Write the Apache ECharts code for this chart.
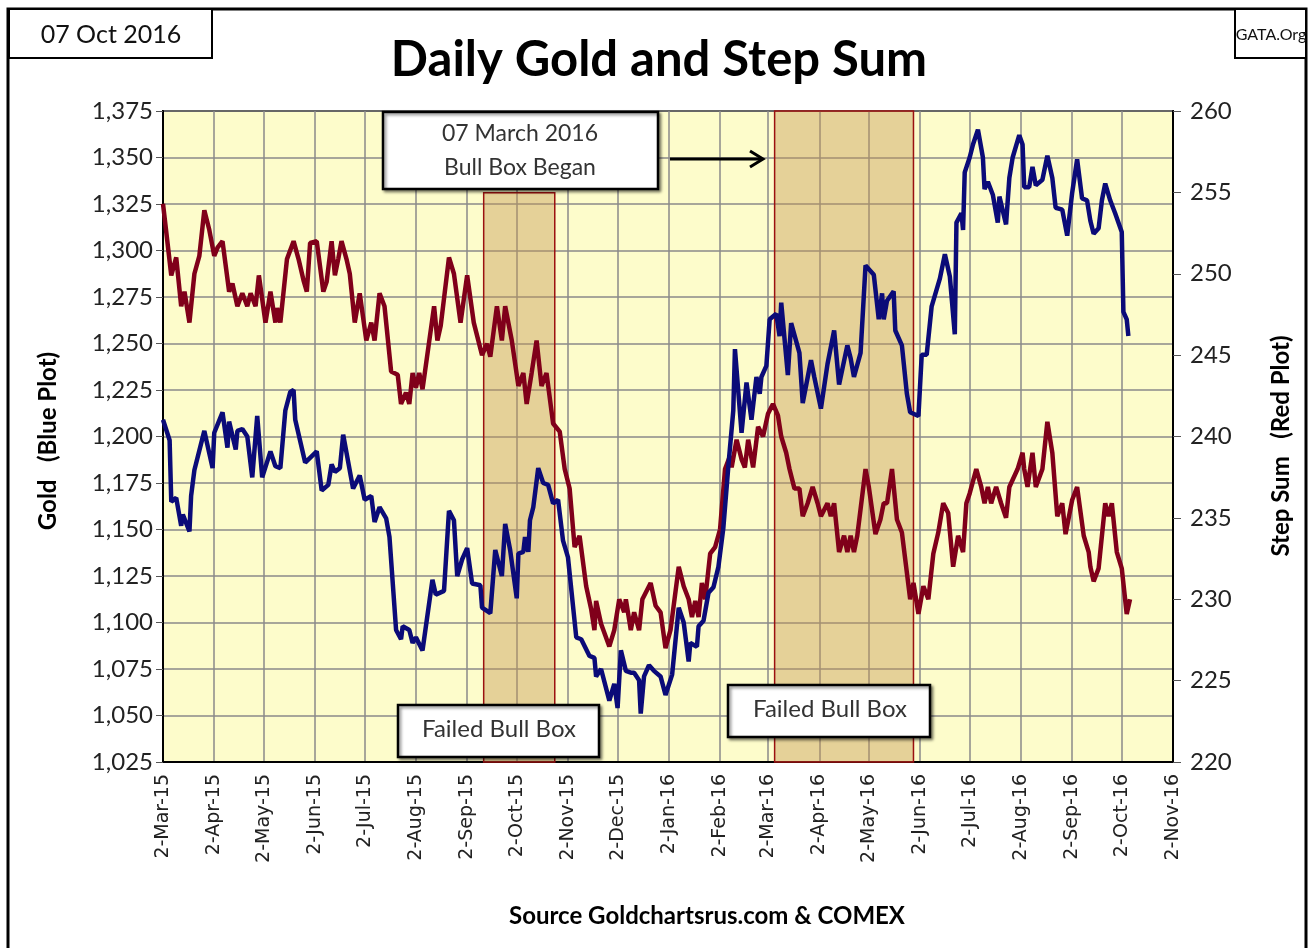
<!DOCTYPE html>
<html>
<head>
<meta charset="utf-8">
<title>Daily Gold and Step Sum</title>
<script src="https://cdn.jsdelivr.net/npm/echarts@6/dist/echarts.min.js"></script>
<style>
html,body{margin:0;padding:0;background:#fff;}
#main{width:1312px;height:948px;}
</style>
</head>
<body>
<div id="main"></div>
<script>
// calendar days counted from 2-Mar-15
var goldDay = [0,4,5,8,11,12,16,17,19,25,30,31,36,39,40,44,45,48,51,54,57,60,65,68,71,74,77,79,80,86,93,96,100,102,104,107,109,115,119,122,126,128,131,135,137,141,144,145,149,151,153,157,163,165,170,173,176,178,181,184,187,192,193,198,201,205,207,210,214,215,218,219,221,222,224,227,230,233,236,239,242,245,250,253,258,261,262,265,270,273,275,277,280,283,285,288,289,291,294,297,301,304,308,312,315,318,319,323,324,327,330,333,336,339,342,345,346,350,353,356,359,361,362,365,367,371,373,374,378,380,385,387,392,394,398,402,406,409,414,416,418,422,425,430,433,435,436,438,442,443,447,450,452,457,459,462,465,470,473,476,479,480,483,484,485,488,490,493,496,497,499,502,505,506,510,512,514,518,520,521,524,526,528,532,535,538,540,544,547,550,553,556,559,561,563,566,568,570,573,576,580,581,583,584];
var goldPrice = [1209,1198,1165,1167,1152,1158,1149,1168,1182,1203,1183,1202,1213,1194,1208,1193,1203,1204,1200,1178,1211,1178,1192,1184,1183,1214,1224,1225,1209,1186,1192,1171,1174,1185,1181,1183,1201,1172,1179,1166,1168,1154,1162,1156,1146,1096,1091,1098,1096,1089,1092,1085,1123,1115,1117,1160,1155,1125,1134,1140,1121,1120,1108,1105,1139,1125,1153,1139,1113,1137,1138,1146,1138,1155,1162,1183,1175,1174,1164,1166,1144,1135,1092,1091,1082,1081,1071,1075,1058,1067,1054,1085,1074,1073,1073,1069,1051,1071,1077,1074,1071,1061,1072,1108,1100,1079,1089,1087,1098,1101,1116,1119,1130,1151,1184,1214,1247,1202,1229,1209,1232,1223,1232,1238,1263,1266,1254,1272,1233,1261,1245,1218,1241,1232,1215,1239,1257,1228,1249,1242,1232,1245,1292,1287,1263,1277,1263,1273,1278,1257,1249,1223,1213,1211,1244,1244,1270,1285,1298,1286,1255,1315,1320,1311,1342,1350,1357,1365,1350,1333,1337,1330,1315,1329,1314,1339,1350,1362,1357,1334,1334,1345,1335,1338,1351,1339,1323,1322,1308,1331,1349,1328,1327,1316,1309,1312,1327,1336,1327,1320,1310,1267,1263,1254];

var stepDay = [0,5,8,11,13,16,19,22,25,28,31,33,36,40,42,45,48,51,53,56,58,62,65,68,69,71,75,79,82,85,87,89,93,97,99,102,104,106,108,111,113,116,119,123,126,128,131,134,138,142,144,147,149,151,153,155,157,164,166,168,173,176,180,184,188,193,196,198,202,205,207,211,215,218,220,223,226,229,232,236,240,243,246,249,252,256,259,261,262,265,270,273,276,279,280,283,285,288,290,295,298,301,304,307,312,315,318,320,322,324,326,328,331,334,337,340,343,344,347,350,352,354,357,360,363,366,369,372,374,377,379,382,385,387,390,393,396,398,402,404,406,409,412,414,416,418,420,425,427,431,434,436,438,441,444,447,452,454,457,460,463,466,469,472,475,478,481,484,486,488,492,495,497,499,501,504,507,510,512,517,520,521,523,526,528,532,535,538,541,544,546,550,553,557,560,561,563,566,570,572,574,577,580,583,585];
var stepSum = [254.3,249.9,251.0,248.0,248.9,247.0,250.0,251.1,253.9,252.7,251.1,251.6,252.0,248.9,249.4,248.0,248.8,248.0,248.8,248.0,249.9,247.0,248.9,247.0,247.9,247.0,250.9,252.0,250.9,249.6,248.9,251.9,252.0,248.9,249.5,252.0,249.9,250.9,252.0,250.9,250.0,247.0,248.8,245.9,247.0,245.9,248.8,248.0,244.0,243.8,242.0,242.7,242.0,243.9,243.0,243.9,242.9,248.0,245.9,246.8,251.0,250.0,247.0,249.9,247.0,245.0,245.7,244.9,248.0,245.9,248.0,245.9,243.1,243.9,242.0,243.9,245.9,243.1,243.9,240.8,240.3,238.0,236.8,233.2,233.9,230.8,229.4,228.1,229.9,228.5,227.1,228.1,230.0,229.2,230.0,228.1,229.2,228.1,230.0,231.0,229.6,229.2,227.0,228.1,232.0,230.8,230.0,228.9,229.9,228.9,231.0,230.0,232.8,233.2,234.3,238.0,238.8,238.1,239.8,238.6,238.1,239.8,238.1,240.6,240.0,241.4,242.0,241.3,240.0,239.0,238.0,236.8,236.8,235.1,235.9,236.9,235.9,235.1,235.9,235.1,235.9,232.9,233.9,232.9,233.9,232.9,233.9,238.0,236.9,234.0,234.9,235.9,235.9,238.0,234.9,234.1,230.0,231.0,229.1,230.8,230.0,232.8,234.1,235.9,235.3,232.0,233.9,232.9,235.9,236.5,238.0,236.9,235.9,236.9,235.9,236.9,235.9,235.0,236.9,238.0,239.0,238.0,236.9,239.0,236.9,238.0,240.9,239.0,235.1,235.9,234.0,236.1,236.9,233.9,232.9,232.0,231.1,231.9,235.9,235.1,235.9,232.9,231.9,229.1,230.0];

var bullBoxes = [
	{from:'2015-09-12', to:'2015-10-25', top:1331},
	{from:'2016-03-06', to:'2016-05-29', top:1375}
];
var goldTicks = {min:1025, max:1375, step:25};
var stepTicks = {min:220, max:260, step:5};
var monthNames = ['Jan','Feb','Mar','Apr','May','Jun','Jul','Aug','Sep','Oct','Nov','Dec'];

//横轴：每天一个分类，2-Mar-15 到 2-Nov-16
var catDates = [];
var t0 = Date.UTC(2015,2,2);
for(var i=0;i<=611;i++){
	var d = new Date(t0 + i*86400000);
	var mm = d.getUTCMonth()+1, dd = d.getUTCDate();
	catDates.push(d.getUTCFullYear()+'-'+(mm<10?'0'+mm:mm)+'-'+(dd<10?'0'+dd:dd));
}
function isTickDay(idx, val){
	return val.slice(8) === '02';
}
function fmtDate(val){
	var p = val.split('-');
	return parseInt(p[2],10)+'-'+monthNames[parseInt(p[1],10)-1]+'-'+p[0].slice(2);
}
function zip(xs, ys){
	var out = [];
	for(var i=0;i<xs.length;i++){ out.push([xs[i], ys[i]]); }
	return out;
}

var boxData = bullBoxes.map(function(b){
	return [{xAxis:b.from, yAxis:b.top},{xAxis:b.to, yAxis:goldTicks.min}];
});

var noteBox = {fill:'#fff', stroke:'#000', lineWidth:2.5, shadowBlur:3, shadowOffsetX:2, shadowOffsetY:2, shadowColor:'rgba(0,0,0,0.45)'};

var myChart = echarts.init(document.getElementById('main'));
var option = {
	animation:false,
	backgroundColor:'#ffffff',
	grid:{
		left:163, right:139, top:111, bottom:186,
		show:true, backgroundColor:'#fdfccb', borderColor:'#000', borderWidth:2
	},
	xAxis:[{
		type:'category',
		data:catDates,
		boundaryGap:false,
		axisLine:{lineStyle:{color:'#000', width:2}},
		axisTick:{show:false},
		axisLabel:{
			interval:isTickDay, rotate:90, margin:12,
			color:'#222', fontSize:19, fontFamily:'DejaVu Sans',
			formatter:fmtDate
		},
		splitLine:{show:true, interval:isTickDay, lineStyle:{color:'#8a8a8a', width:1.5}}
	}],
	yAxis:[{
		type:'value', min:goldTicks.min, max:goldTicks.max, interval:goldTicks.step,
		axisLine:{show:true, lineStyle:{color:'#000', width:2}},
		axisTick:{show:true, length:7, lineStyle:{color:'#555'}},
		axisLabel:{margin:10, color:'#222', fontSize:24, fontFamily:'Lato',
			formatter:function(v){ return v.toLocaleString('en-US'); }},
		splitLine:{show:true, lineStyle:{color:'#8a8a8a', width:1.5}}
	},{
		type:'value', position:'right', min:stepTicks.min, max:stepTicks.max, interval:stepTicks.step,
		axisLine:{show:true, lineStyle:{color:'#000', width:2}},
		axisTick:{show:true, length:8, lineStyle:{color:'#555'}},
		axisLabel:{margin:17, color:'#222', fontSize:24, fontFamily:'Lato'},
		splitLine:{show:false}
	}],
	series:[{
		name:'Step Sum', type:'line', yAxisIndex:1,
		data:zip(stepDay, stepSum),
		showSymbol:false, symbol:'none',
		lineStyle:{color:'#80001a', width:4.5},
		z:3
	},{
		name:'Gold', type:'line', yAxisIndex:0,
		data:zip(goldDay, goldPrice),
		showSymbol:false, symbol:'none',
		lineStyle:{color:'#0b0b78', width:4.5},
		markArea:{
			silent:true,
			itemStyle:{color:'rgba(196,150,80,0.42)', borderColor:'#9b1010', borderWidth:1.5},
			data:boxData
		},
		z:4
	}],
	graphic:[
		// 外框
		{type:'rect', shape:{x:8, y:9, width:1298, height:980},
			style:{fill:null, stroke:'#000', lineWidth:3}, z:100},
		{type:'rect', shape:{x:9, y:9, width:203, height:49},
			style:{fill:'#fff', stroke:'#000', lineWidth:2}, z:100},
		{type:'text', x:111, y:35, z:101,
			style:{text:'07 Oct 2016', fill:'#111', font:'25px Lato', textAlign:'center', textVerticalAlign:'middle'}},
		{type:'rect', shape:{x:1235, y:9, width:71, height:49},
			style:{fill:'#fff', stroke:'#000', lineWidth:2}, z:100},
		{type:'text', x:1271, y:35, z:101,
			style:{text:'GATA.Org', fill:'#111', font:'16px Lato', textAlign:'center', textVerticalAlign:'middle'}},
		{type:'text', x:659, y:60, z:101,
			style:{text:'Daily Gold and Step Sum', fill:'#000', font:'bold 49px Lato', textAlign:'center', textVerticalAlign:'middle'}},
		{type:'text', x:48, y:441, rotation:Math.PI/2, z:101,
			style:{text:'Gold   (Blue Plot)', fill:'#000', font:'bold 24px Lato', textAlign:'center', textVerticalAlign:'middle'}},
		{type:'text', x:1281, y:446, rotation:Math.PI/2, z:101,
			style:{text:'Step Sum   (Red Plot)', fill:'#000', font:'bold 24px Lato', textAlign:'center', textVerticalAlign:'middle'}},
		{type:'text', x:707, y:916, z:101,
			style:{text:'Source Goldchartsrus.com & COMEX', fill:'#000', font:'bold 24px Lato', textAlign:'center', textVerticalAlign:'middle'}},
		// 注释框
		{type:'rect', shape:{x:383, y:112, width:275, height:77}, style:noteBox, z:100},
		{type:'text', x:520, y:134, z:101,
			style:{text:'07 March 2016', fill:'#333', font:'23px Lato', textAlign:'center', textVerticalAlign:'middle'}},
		{type:'text', x:520, y:168, z:101,
			style:{text:'Bull Box Began', fill:'#333', font:'23px Lato', textAlign:'center', textVerticalAlign:'middle'}},
		{type:'line', shape:{x1:670, y1:159, x2:762, y2:159}, style:{stroke:'#000', lineWidth:3}, z:101},
		{type:'polyline', shape:{points:[[750,151],[763,159],[750,167]]}, style:{stroke:'#000', lineWidth:3, fill:null}, z:101},
		{type:'rect', shape:{x:398, y:705, width:201, height:52}, style:noteBox, z:100},
		{type:'text', x:499, y:729, z:101,
			style:{text:'Failed Bull Box', fill:'#333', font:'24px Lato', textAlign:'center', textVerticalAlign:'middle'}},
		{type:'rect', shape:{x:728, y:685, width:202, height:52}, style:noteBox, z:100},
		{type:'text', x:830, y:709, z:101,
			style:{text:'Failed Bull Box', fill:'#333', font:'24px Lato', textAlign:'center', textVerticalAlign:'middle'}}
	]
};
myChart.setOption(option);
</script>
</body>
</html>
